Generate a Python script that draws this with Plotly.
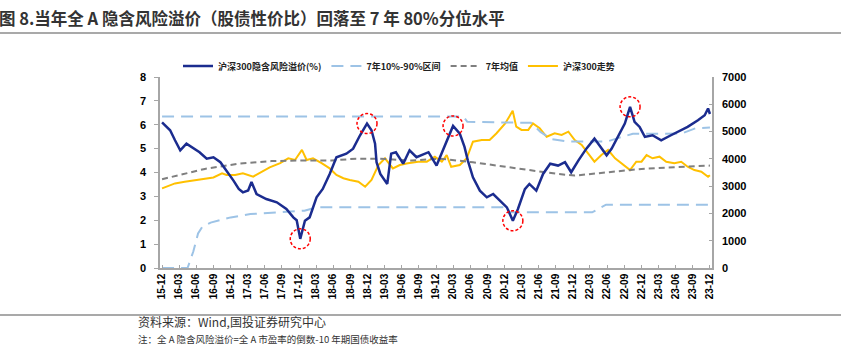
import plotly.graph_objects as go
import pandas as pd

# ---------------- data ----------------
erp_dates = ["2015-12-31","2016-01-12","2016-02-12","2016-03-09","2016-04-06","2016-05-09","2016-06-15",
             "2016-07-18","2016-08-25","2016-09-30","2016-11-06","2016-12-09","2017-01-15","2017-02-12",
             "2017-03-06","2017-04-03","2017-04-21","2017-05-18","2017-07-09","2017-09-03","2017-10-24",
             "2017-11-30","2017-12-18","2018-01-06","2018-01-31","2018-02-25","2018-04-03","2018-05-06",
             "2018-06-12","2018-07-18","2018-09-09","2018-10-15","2018-11-21","2018-12-28","2019-01-21",
             "2019-02-09","2019-02-17","2019-03-09","2019-04-15","2019-05-06","2019-05-31","2019-07-09",
             "2019-08-12","2019-09-18","2019-11-21","2020-01-03","2020-02-09","2020-03-12","2020-03-31",
             "2020-05-06","2020-05-31","2020-06-18","2020-07-15","2020-08-21","2020-09-27","2020-10-31",
             "2020-12-06","2021-01-12","2021-02-13","2021-03-12","2021-04-18","2021-05-12","2021-06-18",
             "2021-07-24","2021-08-31","2021-10-12","2021-11-18","2021-12-21","2022-01-28","2022-03-12",
             "2022-04-24","2022-05-21","2022-06-28","2022-07-25","2022-09-06","2022-10-03","2022-10-31",
             "2022-11-24","2022-12-21","2023-01-18","2023-02-28","2023-04-15","2023-06-06","2023-07-31",
             "2023-09-03","2023-10-28","2023-12-03","2023-12-21","2023-12-31"]
erp_vals = [6.10, 6.00, 5.77, 5.35, 4.93, 5.21, 5.00,
            4.85, 4.58, 4.64, 4.43, 4.08, 3.66, 3.31,
            3.17, 3.25, 3.60, 3.10, 2.89, 2.75, 2.47,
            2.12, 2.00, 1.22, 1.98, 2.12, 2.96, 3.31,
            3.94, 4.64, 4.79, 5.00, 5.56, 6.05, 5.77,
            5.21, 4.43, 3.94, 3.52, 4.79, 4.85, 4.37,
            4.93, 4.64, 4.85, 4.29, 5.00, 5.63, 5.95,
            5.63, 5.07, 4.50, 3.80, 3.24, 2.96, 3.10,
            2.82, 2.54, 1.98, 2.47, 3.30, 3.52, 3.24,
            3.94, 4.37, 4.29, 4.43, 4.01, 4.50, 5.00,
            5.42, 5.14, 4.72, 5.00, 5.63, 6.05, 6.75,
            6.12, 5.91, 5.49, 5.56, 5.35, 5.56, 5.77,
            5.91, 6.19, 6.40, 6.68, 6.45]

csi_dates = ["2015-12-31","2016-03-09","2016-04-30","2016-06-24","2016-08-15","2016-09-30","2016-11-15",
             "2016-12-09","2017-01-24","2017-03-06","2017-04-30","2017-06-12","2017-07-27","2017-09-21",
             "2017-11-03","2017-12-09","2018-01-15","2018-02-09","2018-03-15","2018-04-30","2018-06-12",
             "2018-07-18","2018-08-24","2018-09-27","2018-11-12","2018-12-18","2019-01-21","2019-02-27",
             "2019-04-03","2019-05-15","2019-06-21","2019-08-03","2019-09-27","2019-11-12","2019-12-25",
             "2020-01-31","2020-02-26","2020-03-21","2020-05-06","2020-06-12","2020-07-15","2020-08-31",
             "2020-10-12","2020-11-18","2021-01-03","2021-02-12","2021-03-03","2021-03-31","2021-05-06",
             "2021-05-31","2021-07-06","2021-08-12","2021-09-24","2021-10-31","2021-12-06","2022-01-09",
             "2022-02-15","2022-03-21","2022-04-24","2022-05-31","2022-07-06","2022-08-12","2022-09-24",
             "2022-10-31","2022-12-03","2022-12-31","2023-01-27","2023-02-28","2023-04-06","2023-05-12",
             "2023-06-24","2023-07-31","2023-09-03","2023-10-09","2023-11-15","2023-12-21","2023-12-31"]
csi_vals = [2920, 3100, 3160, 3225, 3290, 3320, 3470,
            3410, 3410, 3470, 3350, 3530, 3690, 3840,
            4020, 3960, 4330, 3960, 4020, 3840, 3650,
            3410, 3290, 3225, 3160, 2980, 3225, 3775,
            4020, 3650, 3775, 3840, 3895, 3895, 4080,
            3895, 4140, 3710, 3775, 4020, 4630, 4690,
            4690, 4940, 5300, 5760, 5180, 5060, 5060,
            5300, 5120, 4810, 4940, 4875, 4995, 4690,
            4510, 4200, 3895, 4140, 4325, 4020, 3775,
            3590, 3895, 3895, 4140, 4020, 4080, 3895,
            3840, 3895, 3710, 3590, 3530, 3345, 3400]

mean_dates = ["2015-12-31","2016-08-15","2017-02-12","2017-08-06","2017-12-31","2018-06-20","2018-10-31",
              "2019-02-28","2019-08-24","2020-01-20","2020-07-15","2021-01-12","2021-05-12","2021-10-12",
              "2022-01-09","2022-07-06","2022-12-31","2023-06-24","2023-12-31"]
mean_vals = [3.72, 4.15, 4.37, 4.48, 4.50, 4.50, 4.58,
             4.58, 4.50, 4.58, 4.43, 4.25, 4.10, 3.94,
             3.87, 4.01, 4.15, 4.22, 4.29]

upper_dates = ["2015-12-31","2020-05-25","2020-06-15","2021-05-20","2021-07-10","2021-09-05","2021-12-01",
               "2022-07-01","2022-09-05","2022-11-15","2023-08-01","2023-10-15","2023-12-31"]
upper_vals = [6.35, 6.35, 6.12, 6.08, 5.70, 5.40, 5.30,
              5.30, 5.46, 5.62, 5.63, 5.85, 5.88]

lower_dates = ["2015-12-31","2016-05-15","2016-06-15","2016-07-10","2016-08-01","2016-09-15","2016-12-31",
               "2017-04-15","2017-09-05","2018-01-28","2018-04-05","2020-12-20","2021-01-10","2022-04-12",
               "2022-06-25","2023-12-31"]
lower_vals = [0.0, 0.0, 0.7, 1.45, 1.72, 1.9, 2.12,
              2.26, 2.33, 2.40, 2.54, 2.54, 2.33, 2.33,
              2.65, 2.65]

x_tick_labels = ["15-12","16-03","16-06","16-09","16-12","17-03","17-06","17-09","17-12",
                 "18-03","18-06","18-09","18-12","19-03","19-06","19-09","19-12",
                 "20-03","20-06","20-09","20-12","21-03","21-06","21-09","21-12",
                 "22-03","22-06","22-09","22-12","23-03","23-06","23-09","23-12"]
left_ticks = [0, 1, 2, 3, 4, 5, 6, 7, 8]
right_ticks = [0, 1000, 2000, 3000, 4000, 5000, 6000, 7000]

highlight_dates = ["2018-01-06", "2018-12-28", "2020-03-31", "2021-02-13", "2022-10-31"]

title_text = "图 8.当年全 A 隐含风险溢价（股债性价比）回落至 7 年 80%分位水平"
source_text = "资料来源：Wind,国投证券研究中心"
note_text = "注：全 A 隐含风险溢价=全 A 市盈率的倒数-10 年期国债收益率"

# ---------------- styling ----------------
NAVY = "#1B2C8F"
GOLD = "#FFC000"
LBLUE = "#9DC3E6"
GREY = "#7F7F7F"
FONT = "Liberation Sans, Noto Sans CJK SC, sans-serif"
CJK = "Noto Sans CJK SC, sans-serif"

W, H = 841, 346
L, R, T, B = 160, 129, 77, 78
PW, PH = W - L - R, H - T - B


def xp(px):
    return (px - L) / PW


def yp(py):
    return (H - B - py) / PH


tick_dates = [(pd.Timestamp(f"20{s[:2]}-{s[3:]}-01") + pd.offsets.MonthEnd(0)).strftime("%Y-%m-%d")
              for s in x_tick_labels]

fig = go.Figure()

# CSI300 on the right-hand axis (primary y, drawn underneath)
fig.add_trace(go.Scatter(x=csi_dates, y=csi_vals, name="沪深300走势", mode="lines",
                         line=dict(color=GOLD, width=2), yaxis="y", legendrank=4))
# left-hand axis traces (yaxis2 overlays and is drawn on top)
fig.add_trace(go.Scatter(x=upper_dates, y=upper_vals, name="7年10%-90%区间", mode="lines",
                         line=dict(color=LBLUE, width=2, dash="12px,7px"), yaxis="y2",
                         legendgroup="band", legendrank=2))
fig.add_trace(go.Scatter(x=lower_dates, y=lower_vals, name="7年10%-90%区间", mode="lines",
                         line=dict(color=LBLUE, width=2, dash="12px,7px"), yaxis="y2",
                         legendgroup="band", showlegend=False))
fig.add_trace(go.Scatter(x=mean_dates, y=mean_vals, name="7年均值", mode="lines",
                         line=dict(color=GREY, width=2, dash="6px,4px"), yaxis="y2", legendrank=3))
fig.add_trace(go.Scatter(x=erp_dates, y=erp_vals, name="沪深300隐含风险溢价(%)", mode="lines",
                         line=dict(color=NAVY, width=2.5), yaxis="y2", legendrank=1))

# red dashed circles around extreme points
erp_lookup = dict(zip(erp_dates, erp_vals))
for d in highlight_dates:
    fig.add_shape(type="circle", xref="x", yref="y2", xsizemode="pixel", ysizemode="pixel",
                  xanchor=d, yanchor=erp_lookup[d], x0=-10, x1=10, y0=-10, y1=10,
                  line=dict(color="#FF0000", width=1.5, dash="3px,2px"))

# horizontal rules above and below chart
fig.add_shape(type="line", xref="paper", yref="paper", x0=xp(0), x1=xp(W), y0=yp(33), y1=yp(33),
              line=dict(color="#8C8C8C", width=1.5))
fig.add_shape(type="line", xref="paper", yref="paper", x0=xp(0), x1=xp(W), y0=yp(315), y1=yp(315),
              line=dict(color="#8C8C8C", width=1.5))

fig.add_annotation(text=title_text, xref="paper", yref="paper", x=xp(-3), y=yp(18),
                   xanchor="left", yanchor="middle", showarrow=False,
                   font=dict(family=CJK, size=16.5, color="#333333", weight="bold"))
fig.add_annotation(text=source_text, xref="paper", yref="paper", x=xp(137), y=yp(321.5),
                   xanchor="left", yanchor="middle", showarrow=False, borderpad=0,
                   font=dict(family=CJK, size=12, color="#333333"))
fig.add_annotation(text=note_text, xref="paper", yref="paper", x=xp(137), y=yp(338.8),
                   xanchor="left", yanchor="middle", showarrow=False, borderpad=0,
                   font=dict(family=CJK, size=9.5, color="#333333"))

axis_font = dict(family=FONT, size=11, color="#000000", weight="bold")

fig.update_layout(
    width=W, height=H,
    margin=dict(l=L, r=R, t=T, b=B, pad=0),
    paper_bgcolor="white", plot_bgcolor="white",
    showlegend=True,
    legend=dict(orientation="h", x=xp(178), y=yp(66), xanchor="left", yanchor="middle",
                font=dict(family=CJK, size=9, color="#222222", weight="bold"),
                itemwidth=30, bgcolor="rgba(0,0,0,0)", traceorder="normal"),
    xaxis=dict(type="date", range=["2015-12-20", "2024-01-11"],
               tickmode="array", tickvals=tick_dates, ticktext=x_tick_labels,
               tickangle=-90, tickfont=dict(family=FONT, size=10, color="#000000", weight="bold"),
               showline=True, linecolor="#A6A6A6", linewidth=1.5,
               ticks="inside", ticklen=3, tickcolor="#A6A6A6",
               showgrid=False, zeroline=False),
    yaxis=dict(side="right", range=[0, 7000], tickmode="array", tickvals=right_ticks,
               tickfont=axis_font, showline=True, linecolor="#A6A6A6", linewidth=1.5,
               ticks="inside", ticklen=3, tickcolor="#A6A6A6", ticklabelstandoff=6,
               showgrid=False, zeroline=False),
    yaxis2=dict(side="left", overlaying="y", range=[0, 8], tickmode="array", tickvals=left_ticks,
                tickfont=axis_font, showline=True, linecolor="#A6A6A6", linewidth=1.5,
                ticks="outside", ticklen=4, tickcolor="#A6A6A6", ticklabelstandoff=6,
                showgrid=False, zeroline=False),
)

fig.write_html("out.html")
